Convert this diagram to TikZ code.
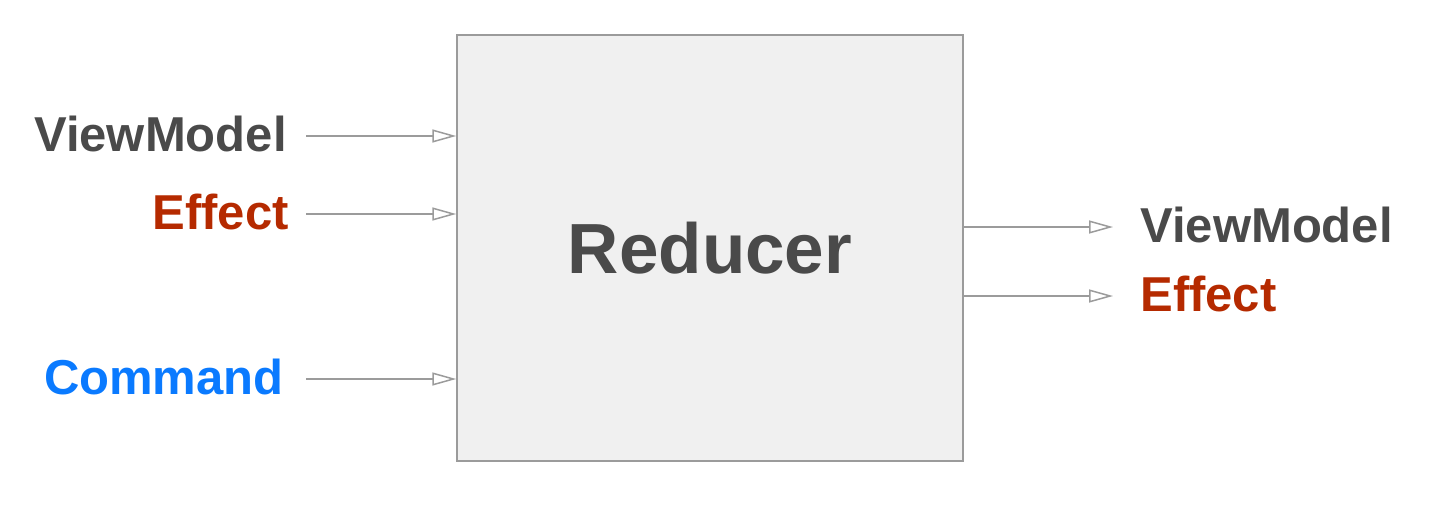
\documentclass[tikz,border=0pt]{standalone}
\usepackage{fontspec}
\setmainfont{Liberation Sans}
\usepackage{xcolor}
\usetikzlibrary{arrows.meta}
\definecolor{txtgray}{HTML}{4A4A4A}
\definecolor{effred}{HTML}{B52A00}
\definecolor{cmdblue}{HTML}{0A7AFF}
\definecolor{linegray}{HTML}{9B9B9B}
\definecolor{boxfill}{HTML}{F0F0F0}
\begin{document}
\begin{tikzpicture}[x=0.5pt, y=-0.5pt,
  lbl/.style={inner ysep=0pt, text height=18pt, text depth=3pt, font=\fontsize{24.5}{30}\selectfont\bfseries},
  flow/.style={draw=linegray, line width=0.75pt, -{Triangle[open, length=12pt, width=6.5pt]}}]
\useasboundingbox (0,0) rectangle (1438,524);
\node[draw=linegray, fill=boxfill, line width=0.75pt, minimum width=253pt, minimum height=213pt, text=txtgray, font=\fontsize{35.5}{42}\selectfont\bfseries] (red) at (710,248) {Reducer};
\node[lbl, inner xsep=9.5pt, anchor=east, text=txtgray] (vmIn) at (306,136) {ViewModel};
\node[lbl, inner xsep=8.5pt, anchor=east, text=effred] (effIn) at (306,214) {Effect};
\node[lbl, inner xsep=11pt, anchor=east, text=cmdblue] (cmdIn) at (306,379) {Command};
\node[lbl, inner xsep=13.5pt, anchor=west, text=txtgray] (vmOut) at (1113,227) {ViewModel};
\node[lbl, inner xsep=13.5pt, anchor=west, text=effred] (effOut) at (1113,296) {Effect};

\draw[flow] (vmIn.east) -- (vmIn.east -| red.west);
\draw[flow] (effIn.east) -- (effIn.east -| red.west);
\draw[flow] (cmdIn.east) -- (cmdIn.east -| red.west);
\draw[flow] (red.east |- vmOut.west) -- (vmOut.west);
\draw[flow] (red.east |- effOut.west) -- (effOut.west);
\end{tikzpicture}
\end{document}
